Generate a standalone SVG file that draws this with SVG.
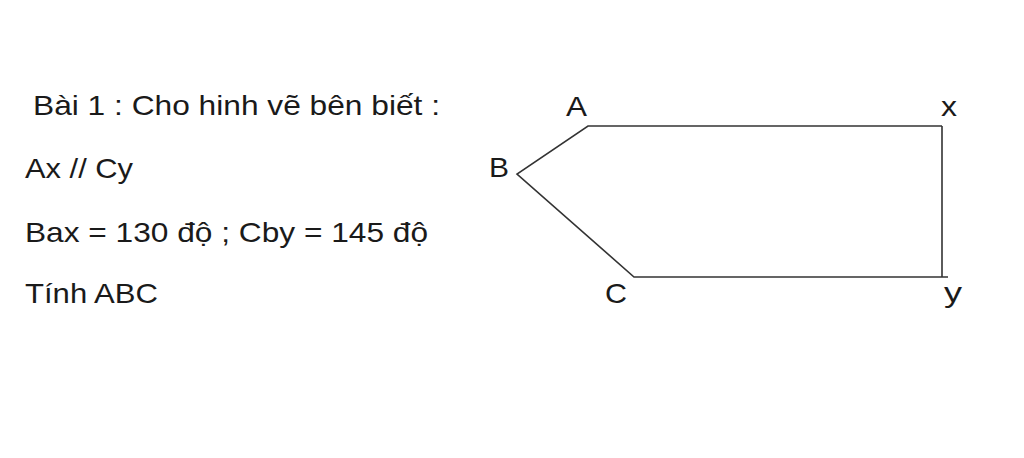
<svg xmlns="http://www.w3.org/2000/svg" width="1024" height="458" viewBox="0 0 1024 458">
<style>
.t{font-family:"Liberation Sans",Arial,sans-serif;font-size:28px;fill:#1a1a1a}
.ln{stroke:#333;stroke-width:1.6;fill:none;stroke-linejoin:miter}
</style>
<rect width="1024" height="458" fill="#fff"/>
<g id="problem">
<text class="t" x="33" y="115" textLength="407" lengthAdjust="spacingAndGlyphs">Bài 1 : Cho hinh vẽ bên biết :</text>
<text class="t" x="25" y="178" textLength="108" lengthAdjust="spacingAndGlyphs">Ax // Cy</text>
<text class="t" x="25" y="242" textLength="403" lengthAdjust="spacingAndGlyphs">Bax = 130 độ ; Cby = 145 độ</text>
<text class="t" x="25" y="303" textLength="133" lengthAdjust="spacingAndGlyphs">Tính ABC</text>
</g>
<g id="connectors">
<polyline class="ln" points="942,126 588,126 517,174 634,277 948,277"/>
<line class="ln" x1="942" y1="126" x2="942" y2="277"/>
</g>
<g id="A"><text class="t" x="566" y="116" textLength="21" lengthAdjust="spacingAndGlyphs">A</text></g>
<g id="x"><text class="t" x="941" y="116" textLength="16" lengthAdjust="spacingAndGlyphs">x</text></g>
<g id="B"><text class="t" x="489" y="177" textLength="20" lengthAdjust="spacingAndGlyphs">B</text></g>
<g id="C"><text class="t" x="605" y="303" textLength="22" lengthAdjust="spacingAndGlyphs">C</text></g>
<g id="y"><text class="t" x="944" y="302" textLength="18" lengthAdjust="spacingAndGlyphs">y</text></g>
</svg>
